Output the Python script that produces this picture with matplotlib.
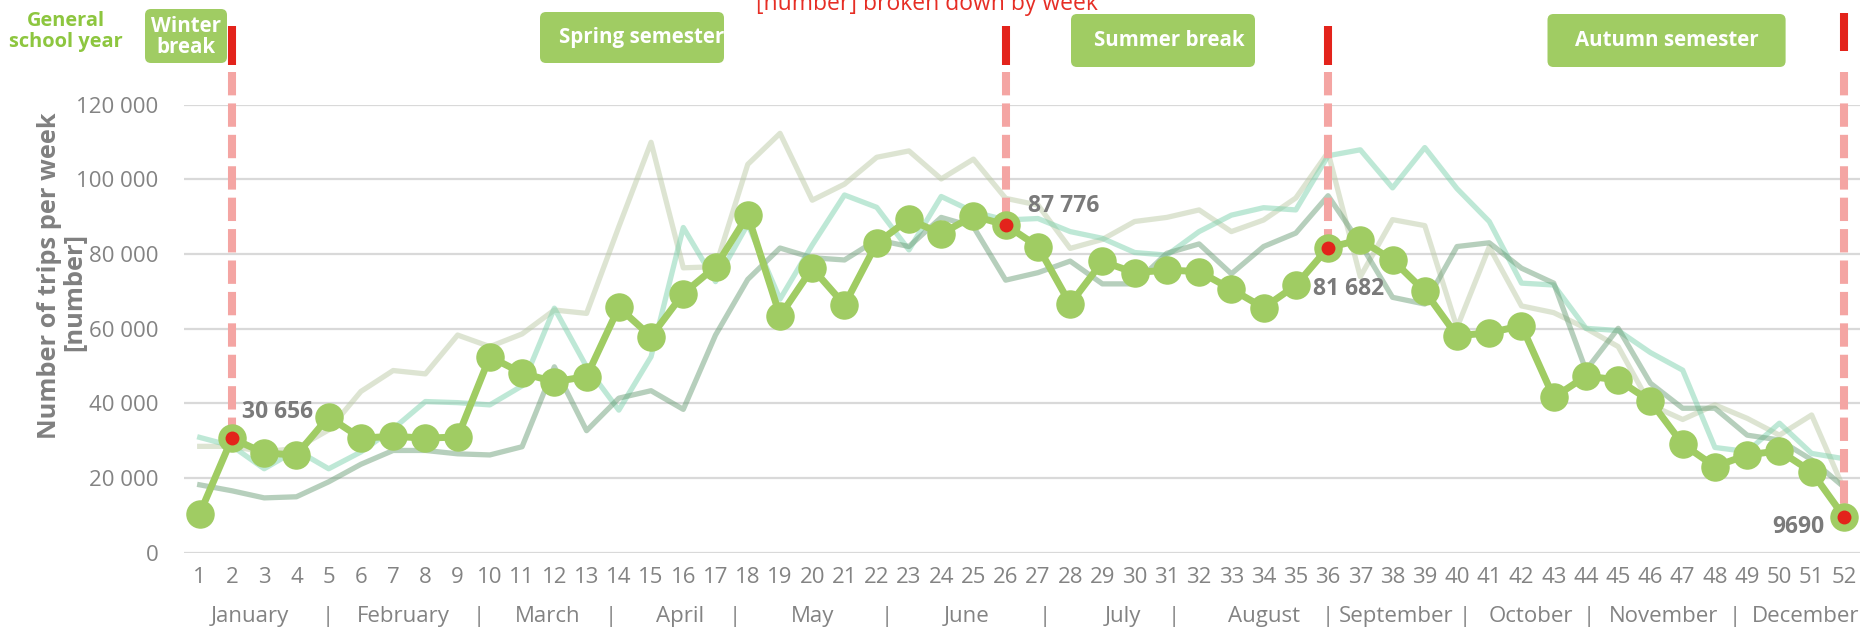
"""Weekly trips chart with school-year periods."""
import matplotlib
matplotlib.use("Agg")
import matplotlib.pyplot as plt
import matplotlib.transforms as mtransforms
from matplotlib.patches import FancyBboxPatch

plt.rcParams['font.family'] = ['Open Sans', 'DejaVu Sans']

# ---- data -------------------------------------------------------------
weeks = list(range(1, 53))

trips_main = [10500, 30656, 26700, 26200, 36400, 30700, 31200, 30700, 31000, 52500,
              48100, 45800, 47200, 65700, 57900, 69400, 76600, 90400, 63400, 76200,
              66400, 82900, 89300, 85400, 90200, 87776, 82000, 66600, 78000, 75000,
              75700, 75300, 70600, 65600, 71600, 81682, 83800, 78400, 70000, 58100,
              58900, 60800, 41600, 47300, 46300, 40600, 29100, 23100, 26200, 27300,
              21700, 9690]

trips_pale = [28500, 28500, 27000, 28000, 32900, 43200, 48800, 47900, 58300, 55200,
              58600, 65000, 64100, 87300, 109900, 76300, 76600, 104000, 112300, 94400,
              98700, 105900, 107600, 100100, 105400, 94900, 93100, 81500, 83900, 88700,
              89800, 91800, 86000, 89100, 95000, 107200, 73900, 89200, 87600, 60300,
              81900, 66100, 64300, 60100, 55200, 39600, 35700, 39600, 36000, 31500,
              36900, 17100]

trips_mint = [30900, 28600, 22500, 27500, 22500, 27000, 33200, 40500, 40200, 39600,
              44700, 65500, 49800, 38200, 52500, 87100, 72600, 88000, 67900, 82400,
              95800, 92500, 81100, 95400, 91300, 89100, 89500, 86000, 84200, 80400,
              79700, 86000, 90400, 92400, 91800, 106300, 107900, 97700, 108500, 97500,
              88700, 72200, 71700, 60100, 59500, 53600, 48900, 28200, 27100, 34700,
              26600, 25200]

trips_sage = [18200, 16600, 14700, 15000, 19000, 23700, 27400, 27400, 26500, 26200,
              28400, 49800, 32700, 41400, 43400, 38400, 58300, 73200, 81600, 79000,
              78400, 83800, 82000, 89800, 87300, 73000, 75000, 78100, 72000, 72000,
              80200, 82700, 74700, 82000, 85600, 95600, 82800, 68400, 66600, 82000,
              83000, 76200, 72200, 48900, 60100, 45400, 38700, 38700, 31500, 30200,
              24900, 17600]

marked_weeks = [2, 26, 36, 52]
marked_labels = ["30 656", "87 776", "81 682", "9690"]

month_names = ["January", "February", "March", "April", "May", "June", "July",
               "August", "September", "October", "November", "December"]

period_names = ["Winter\nbreak", "Spring semester", "Summer break", "Autumn semester"]

# ---- layout -------------------------------------------------------------
W, H = 1864, 630
GREEN = '#a0cc63'
RED = '#e3231b'
GRAY = '#7a7a7a'
TICK = '#838383'

month_pos = [2.55, 7.3, 11.8, 15.9, 20.0, 24.8, 29.65, 34.0, 38.1, 42.3, 46.4, 50.8]
sep_pos = [4.96, 9.67, 13.75, 17.6, 22.3, 27.2, 31.2, 36.0, 40.25, 44.1, 48.6]
# red bar above each boundary line, in y values (week 52 sits a bit higher)
bar_span = [(130600, 141000), (130600, 141000), (130600, 141000), (134400, 144500)]


def fx(px):
    return px / W


def fy(py):
    """pixel row counted from the top -> figure fraction"""
    return 1 - py / H


fig = plt.figure(figsize=(W / 100, H / 100), dpi=100)
ax = fig.add_axes([fx(183.6), fy(552.8), fx(1860 - 183.6), (552.8 - 104.6) / H])

ax.set_xlim(0.5, 52.5)
ax.set_ylim(0, 120000)
ax.set_yticks(range(0, 120001, 20000))
ax.set_yticklabels([f"{v:,}".replace(",", " ") for v in range(0, 120001, 20000)])
ax.set_xticks(weeks)
ax.set_xticklabels([str(w) for w in weeks])
ax.grid(axis='y', color='#d9d9d9', lw=1.6)
ax.set_axisbelow(True)
for s in ax.spines.values():
    s.set_visible(False)
ax.tick_params(length=0, labelsize=16, labelcolor=TICK)
ax.tick_params(axis='y', pad=18)
ax.tick_params(axis='x', pad=10)

# background years
ax.plot(weeks, trips_pale, color='#bccba6', alpha=0.5, lw=3.8, zorder=2)
ax.plot(weeks, trips_mint, color='#7fd2ae', alpha=0.5, lw=3.8, zorder=2)
ax.plot(weeks, trips_sage, color='#6fa07a', alpha=0.5, lw=3.8, zorder=2)

# period boundaries
for w, (b0, b1) in zip(marked_weeks, bar_span):
    v = trips_main[w - 1]
    ax.plot([w, w], [128700, v], color='#f4a5a3', lw=5.8, dashes=(2.9, 1.0),
            clip_on=False, zorder=4)
    ax.plot([w, w], [b0, b1], color=RED, lw=5.8, solid_capstyle='butt',
            clip_on=False, zorder=4)

# current year
ax.plot(weeks, trips_main, color=GREEN, lw=5, marker='o', ms=19.5, zorder=5)
ax.plot(marked_weeks, [trips_main[w - 1] for w in marked_weeks], 'o', color=RED,
        ms=9, zorder=6, clip_on=False)

offsets = [(7.2, 19.2, 'left'), (16, 13.7, 'left'), (-10.8, -29.6, 'left'),
           (-13.7, -7.5, 'right')]
for w, txt, (dx, dy, ha) in zip(marked_weeks, marked_labels, offsets):
    ax.annotate(txt, (w, trips_main[w - 1]), xytext=(dx, dy), textcoords='offset points',
                ha=ha, va='center', fontsize=16.5, fontweight='bold', color=GRAY, zorder=7)

# month row
tr = mtransforms.blended_transform_factory(ax.transData, fig.transFigure)
for name, x in zip(month_names, month_pos):
    fig.text(x, fy(616.7), name, transform=tr, ha='center', va='center',
             fontsize=16, color=TICK)
for x in sep_pos:
    fig.text(x, fy(616.7), "|", transform=tr, ha='center', va='center',
             fontsize=16, color=TICK)

# y label
fig.text(fx(50), fy(276), "Number of trips per week", rotation=90, ha='center',
         va='center', fontsize=18.3, fontweight='bold', color='#808080')
fig.text(fx(75), fy(292), "[number]", rotation=90, ha='center', va='center',
         fontsize=18.3, fontweight='bold', color='#808080')

# title, cut at the top as in the original
fig.text(fx(927), fy(10), "[number] broken down by week", ha='center', va='baseline',
         fontsize=16.5, color='#e62e25')

fig.text(fx(66), fy(31.5), "General\nschool year", ha='center', va='center',
         fontsize=14.4, fontweight='bold', color='#8dc63f', linespacing=1.05)

# period boxes (pixels from top-left)
boxes = [(145, 9, 227, 63), (540, 12, 724, 63), (1071, 14, 1255, 67), (1547.5, 14, 1785.6, 67)]
text_at = [(186, 37, 'center'), (559, 37.5, 'left'), (1245, 40.5, 'right'), (1667, 40.5, 'center')]
for name, (x0, y0, x1, y1), (tx, ty, ha) in zip(period_names, boxes, text_at):
    patch = FancyBboxPatch((x0, H - y1), x1 - x0, y1 - y0,
                           boxstyle='round,pad=0,rounding_size=6',
                           transform=mtransforms.IdentityTransform(),
                           fc=GREEN, ec='none', zorder=1)
    fig.patches.append(patch)
    fig.text(fx(tx), fy(ty), name, ha=ha, va='center', fontsize=14.8, fontweight='bold',
             color='white', linespacing=1.05, zorder=2)

fig.savefig("out.png", dpi=100)
